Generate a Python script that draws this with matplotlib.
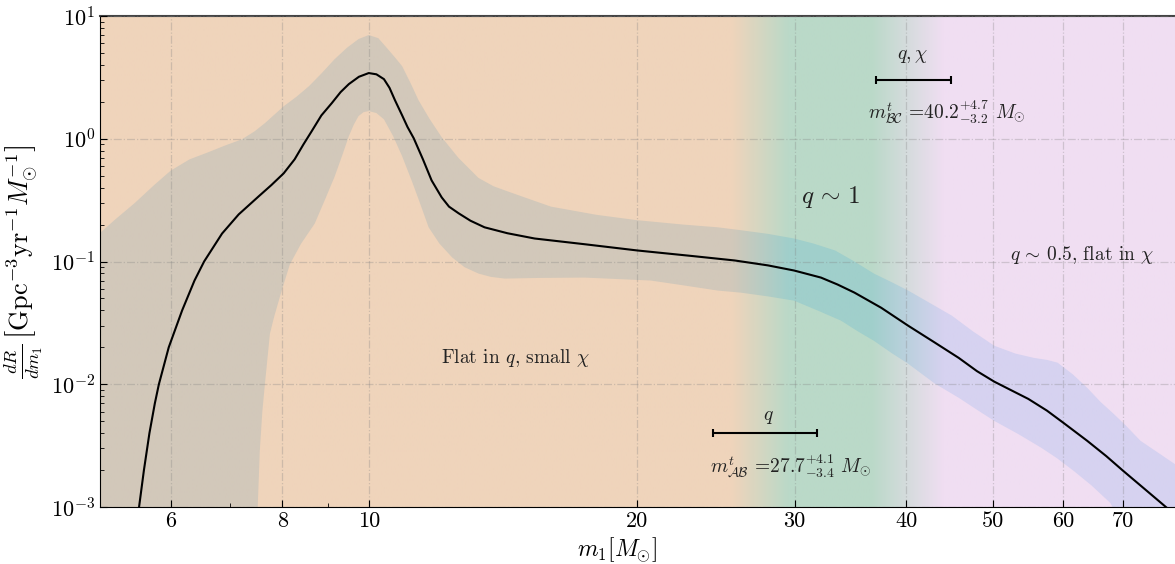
import numpy as np
import matplotlib
matplotlib.use('Agg')
import matplotlib.pyplot as plt
from matplotlib.image import AxesImage
from matplotlib.ticker import FixedLocator, NullFormatter, LogLocator

plt.rcParams['font.family'] = 'serif'
plt.rcParams['font.serif'] = ['cmr10', 'DejaVu Serif']
plt.rcParams['mathtext.fontset'] = 'cm'
plt.rcParams['axes.formatter.use_mathtext'] = True

# median of the differential rate
median_m = [5.45, 5.53, 5.60, 5.68, 5.76, 5.82, 5.97, 6.18, 6.38, 6.54, 6.85, 7.15, 7.53,
            7.78, 8.03, 8.26, 8.45, 8.63, 8.85, 9.09, 9.30, 9.50, 9.75, 10.0, 10.2, 10.4,
            10.55, 10.7, 10.9, 11.05, 11.23, 11.5, 11.76, 12.07, 12.3, 12.61, 13.0, 13.48,
            14.3, 15.34, 17.5, 20.0, 23.0, 25.7, 28.0, 29.95, 32.1, 33.5, 35.0, 37.5, 40.2,
            43.0, 45.8, 48.0, 50.2, 52.5, 54.8, 57.5, 60.0, 63.8, 67.0, 70.0, 74.0, 77.9,
            81.0]
median_r = [4e-4, 1e-3, 0.002, 0.004, 0.007, 0.01, 0.02, 0.04, 0.07, 0.1, 0.169, 0.242,
            0.34, 0.42, 0.523, 0.68, 0.9, 1.15, 1.55, 1.95, 2.4, 2.79, 3.2, 3.43, 3.35,
            3.06, 2.6, 2.06, 1.55, 1.25, 1.01, 0.68, 0.458, 0.333, 0.28, 0.247, 0.215,
            0.19, 0.17, 0.154, 0.138, 0.123, 0.111, 0.102, 0.093, 0.0845, 0.074, 0.065,
            0.0558, 0.042, 0.030, 0.022, 0.0164, 0.0128, 0.0105, 0.0089, 0.0076, 0.0061,
            0.00485, 0.00346, 0.0026, 0.00197, 0.0014, 0.00102, 0.0008]

# 90% credible band, upper edge
upper_m = [4.9, 5.2, 5.47, 5.75, 6.0, 6.3, 6.62, 6.9, 7.21, 7.45, 7.65, 8.03, 8.3, 8.57,
           8.85, 9.16, 9.45, 9.74, 10.0, 10.25, 10.5, 10.7, 10.9, 11.15, 11.37, 11.7,
           12.07, 12.6, 13.27, 13.8, 14.35, 15.0, 16.0, 18.0, 20.0, 22.5, 24.6, 26.1,
           28.0, 29.95, 31.5, 33.3, 35.0, 36.8, 38.5, 40.2, 42.5, 45.0, 47.5, 50.2, 53.0,
           55.6, 57.5, 59.1, 61.5, 63.8, 66.0, 68.3, 70.5, 73.2, 77.0, 81.0]
upper_r = [0.15, 0.22, 0.30, 0.42, 0.55, 0.68, 0.78, 0.88, 0.99, 1.15, 1.34, 1.84, 2.2,
           2.68, 3.4, 4.46, 5.5, 6.49, 7.0, 6.6, 5.4, 4.6, 3.9, 2.8, 2.06, 1.45, 1.03, 0.7,
           0.48, 0.41, 0.37, 0.33, 0.28, 0.24, 0.217, 0.2, 0.19, 0.18, 0.168, 0.154, 0.14,
           0.123, 0.1, 0.0798, 0.068, 0.058, 0.046, 0.0362, 0.027, 0.0206, 0.0178, 0.0164,
           0.0158, 0.015, 0.012, 0.00935, 0.0072, 0.00574, 0.0046, 0.00346, 0.0027, 0.0021]

# 90% credible band, lower edge
lower_m = [4.9, 7.3, 7.51, 7.55, 7.6, 7.65, 7.75, 7.83, 8.0, 8.16, 8.4, 8.7, 8.95, 9.16,
           9.35, 9.5, 9.62, 9.74, 9.87, 10.0, 10.2, 10.4, 10.65, 10.9, 11.2, 11.45, 11.67,
           12.0, 12.4, 12.8, 13.27, 13.7, 14.2, 15.5, 17.45, 19.0, 20.7, 22.5, 24.6, 26.1,
           28.0, 29.95, 31.8, 33.8, 35.3, 36.8, 38.5, 40.2, 43.0, 45.8, 48.0, 50.2, 53.5,
           56.7, 59.0, 61.6, 64.5, 67.7, 70.0, 81.0]
lower_r = [1e-5, 1e-4, 1e-3, 0.00286, 0.006, 0.01, 0.0258, 0.0349, 0.06, 0.095, 0.14,
           0.204, 0.33, 0.494, 0.75, 1.05, 1.3, 1.53, 1.65, 1.68, 1.62, 1.44, 1.05, 0.72,
           0.434, 0.28, 0.19, 0.14, 0.108, 0.09, 0.0798, 0.075, 0.0726, 0.0735, 0.074,
           0.072, 0.07, 0.064, 0.058, 0.0558, 0.052, 0.048, 0.04, 0.033, 0.027, 0.0226,
           0.018, 0.0147, 0.0102, 0.00776, 0.0062, 0.00503, 0.0039, 0.00303, 0.0025,
           0.00197, 0.0015, 0.00108, 7e-4, 1e-4]

# transition masses (median, minus, plus)
m_ab, m_ab_lo, m_ab_hi = 27.7, 3.4, 4.1
m_bc, m_bc_lo, m_bc_hi = 40.2, 3.2, 4.7

xticks = [6, 8, 10, 20, 30, 40, 50, 60, 70]
xmin, xmax = 5.0, 80.0

# region colours: background and band on top of it
bg_cols = {'A': '#EFD4BB', 'B': '#BAD9C8', 'C': '#F0DEF2'}
band_cols = {'A': '#D2C8BA', 'B': '#A0CFCB', 'C': '#D6D2F0'}
# where the colour blends between regions
blend_stops = [25.5, 29.5, 36.5, 44.0]


def hex2rgb(h):
    return np.array([int(h[i:i + 2], 16) for i in (1, 3, 5)]) / 255.


def gradient(cols, n=800):
    lm = np.linspace(np.log10(xmin), np.log10(xmax), n)
    s = np.log10(blend_stops)
    a, b, c = hex2rgb(cols['A']), hex2rgb(cols['B']), hex2rgb(cols['C'])
    t1 = np.clip((lm - s[0]) / (s[1] - s[0]), 0, 1)[:, None]
    t2 = np.clip((lm - s[2]) / (s[3] - s[2]), 0, 1)[:, None]
    rgb = a * (1 - t1) + b * t1
    rgb = rgb * (1 - t2) + c * t2
    return rgb[None, :, :]


fig = plt.figure(figsize=(11.75, 5.64), dpi=100)
ax = fig.add_axes([0.0851, 0.101, 0.9149, 0.8706])
ax.set_xscale('log')
ax.set_yscale('log')
ax.set_xlim(xmin, xmax)
ax.set_ylim(1e-3, 1e1)

# background colours
bg = AxesImage(ax, extent=(0, 1, 0, 1), transform=ax.transAxes, interpolation='bilinear', zorder=0.5)
bg.set_data(gradient(bg_cols))
ax.add_image(bg)

# credible band, coloured by region
band_x = list(upper_m) + list(lower_m[::-1])
band_y = list(upper_r) + list(lower_r[::-1])
poly = ax.fill(band_x, band_y, facecolor='none', edgecolor='none', zorder=1)[0]
band = AxesImage(ax, extent=(0, 1, 0, 1), transform=ax.transAxes, interpolation='bilinear', zorder=1)
band.set_data(gradient(band_cols))
ax.add_image(band)
band.set_clip_path(poly)

ax.plot(median_m, median_r, color='k', lw=1.5, zorder=3)

# transition masses
ax.errorbar([m_ab], [0.0040], xerr=[[m_ab_lo], [m_ab_hi]], fmt='none', ecolor='k',
            elinewidth=1.5, capsize=3, capthick=1.5, zorder=4)
ax.errorbar([m_bc], [3.0], xerr=[[m_bc_lo], [m_bc_hi]], fmt='none', ecolor='k',
            elinewidth=1.5, capsize=3, capthick=1.5, zorder=4)
ax.text(28.0, 0.0054, r'$q$', fontsize=14, ha='center', va='center', color='#222222')
ax.text(40.7, 4.7, r'$q, \chi$', fontsize=14, ha='center', va='center', color='#222222')
ax.text(29.7, 0.00216, r'$m^t_{\mathcal{AB}}$ =$27.7^{+4.1}_{-3.4}$ $M_{\odot}$',
        fontsize=14, ha='center', va='center', color='#222222')
ax.text(44.4, 1.64, r'$m^t_{\mathcal{BC}}$ =$40.2^{+4.7}_{-3.2}$ $M_{\odot}$',
        fontsize=14, ha='center', va='center', color='#222222')

# region labels
ax.text(14.6, 0.0164, r'Flat in $q$, small $\chi$', fontsize=14, ha='center', va='center', color='#222222')
ax.text(32.9, 0.333, r'$q\,\sim\,1$', fontsize=18, ha='center', va='center', color='#222222')
ax.text(62.9, 0.112, r'$q\,\sim\,0.5$, flat in $\chi$', fontsize=14, ha='center', va='center', color='#222222')

ax.xaxis.set_major_locator(FixedLocator(xticks))
ax.set_xticklabels([str(t) for t in xticks])
ax.xaxis.set_minor_formatter(NullFormatter())
ax.yaxis.set_minor_locator(LogLocator(base=10, subs=np.arange(2, 10)))
ax.yaxis.set_minor_formatter(NullFormatter())
ax.tick_params(which='both', direction='in', labelsize=16, top=False, right=False)
ax.tick_params(which='major', length=5)
ax.tick_params(which='minor', length=3)

ax.set_axisbelow(False)
ax.grid(True, which='major', linestyle='-.', color='gray', alpha=0.3, lw=0.9)

ax.spines['right'].set_visible(False)
ax.spines['top'].set_color('#444444')
ax.spines['top'].set_linewidth(1.5)

ax.set_xlabel(r'$m_1[M_{\odot}]$', fontsize=17)
ax.set_ylabel(r'$\frac{dR}{dm_1}\,\left[\mathrm{Gpc}^{-3}\mathrm{yr}^{-1}M_{\odot}^{-1}\right]$', fontsize=19)
ax.xaxis.set_label_coords(0.481, -0.057)

fig.savefig('out.png', dpi=100)
